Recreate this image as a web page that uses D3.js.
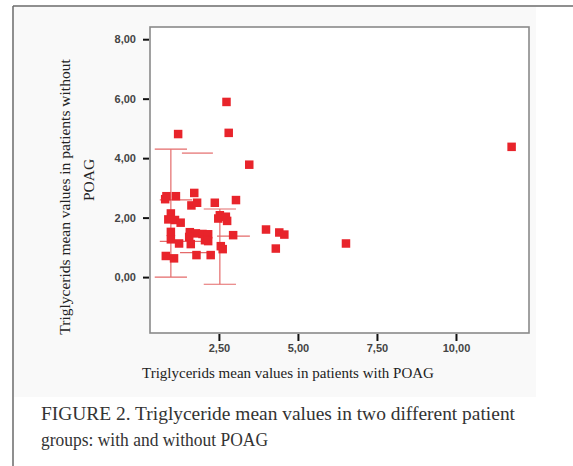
<!DOCTYPE html>
<html>
<head>
<meta charset="utf-8">
<script src="https://cdn.jsdelivr.net/npm/d3@7"></script>
<style>
body{margin:0;background:#fff;}
svg{display:block;}
</style>
</head>
<body>
<div class="visHolder"></div>
<script>
var width=573,
    height=466;

// triglycerides, with POAG (x) vs without POAG (y)
var withPOAG=[2.74,1.21,2.81,11.76,3.46,0.84,1.14,0.80,1.72,1.63,1.81,2.37,3.04,0.98,0.90,1.11,1.29,2.53,2.48,2.72,2.76,0.98,0.98,1.24,1.58,1.77,1.98,2.16,1.56,2.06,2.16,1.61,2.95,2.56,2.62,0.82,1.08,1.79,2.24,3.99,4.41,4.57,4.30,6.52];
var withoutPOAG=[5.89,4.81,4.85,4.38,3.78,2.72,2.72,2.62,2.83,2.41,2.50,2.50,2.59,2.14,1.94,1.92,1.83,2.08,1.97,2.03,1.89,1.52,1.27,1.13,1.51,1.47,1.45,1.44,1.35,1.24,1.21,1.11,1.41,1.04,0.94,0.71,0.63,0.74,0.74,1.60,1.50,1.43,0.96,1.13];

// error bars (vertical) and the extra horizontal marks
var barX=[0.98,2.53],
    barLo=[0.0,-0.24],
    barHi=[4.30,2.29];
var markY=[4.17,2.60,1.20,0.82,1.38],
    markX0=[1.33,0.63,0.63,1.27,2.44],
    markX1=[2.31,1.65,1.95,2.37,3.48];

var xTicks=[2.5,5,7.5,10],
    yTicks=[0,2,4,6,8];

var xTitle='Triglycerids mean values in patients with POAG',
    yTitle=['Triglycerids mean values in patients without','POAG'],
    caption=['FIGURE 2. Triglyceride mean values in two different patient','groups: with and without POAG'];

var dataset=withPOAG.map(function(d,i){return [d,withoutPOAG[i]];});

var svg=d3.select('.visHolder')
  .append('svg')
  .attr('width',width)
  .attr('height',height);

// page frame
svg.append('rect').attr('x',14).attr('y',7).attr('width',522).attr('height',390).style('fill','#f9f9f9');
svg.append('line').attr('x1',13).attr('x2',width).attr('y1',6).attr('y2',6).style('stroke','#6a6a6a').style('stroke-width',1.5);
svg.append('line').attr('x1',13).attr('x2',13).attr('y1',6).attr('y2',height).style('stroke','#6a6a6a').style('stroke-width',1.5);

var pLeft=150,pRight=529,pTop=27,pBottom=333;

var xScale=d3.scaleLinear().domain([0.32,12.31]).range([pLeft,pRight]);
var yScale=d3.scaleLinear().domain([-1.88,8.41]).range([pBottom,pTop]);

var fmt=function(d){return d3.format('.2f')(d).replace('.',',');};

svg.append('rect')
  .attr('x',pLeft).attr('y',pTop)
  .attr('width',pRight-pLeft).attr('height',pBottom-pTop)
  .style('fill','#fff')
  .style('stroke','#8a8a8a')
  .style('stroke-width',1.6);

var xAxis=d3.axisBottom(xScale).tickValues(xTicks).tickFormat(fmt).tickSize(7).tickPadding(3);
var yAxis=d3.axisLeft(yScale).tickValues(yTicks).tickFormat(fmt).tickSize(6).tickPadding(7);

var gx=svg.append('g')
  .attr('transform','translate(0,'+(pBottom+1)+')')
  .call(xAxis)
  .attr('id','x-axis');
var gy=svg.append('g')
  .attr('transform','translate('+(pLeft-1)+',0)')
  .call(yAxis)
  .attr('id','y-axis');

[gx,gy].forEach(function(g){
  g.select('.domain').remove();
  g.selectAll('line').style('stroke','#111').style('stroke-width',2);
  g.selectAll('text')
    .style('font-family','"Liberation Sans",Arial,sans-serif')
    .style('font-size','11px')
    .style('font-weight','bold')
    .style('fill','#444');
});

// error lines
var errColor='#e46a6a';
barX.forEach(function(x,i){
  svg.append('line')
    .attr('x1',xScale(x)).attr('x2',xScale(x))
    .attr('y1',yScale(barLo[i])).attr('y2',yScale(barHi[i]))
    .style('stroke',errColor).style('stroke-width',1.2);
  [barLo[i],barHi[i]].forEach(function(v){
    svg.append('line')
      .attr('x1',xScale(x-0.51)).attr('x2',xScale(x+0.51))
      .attr('y1',yScale(v)).attr('y2',yScale(v))
      .style('stroke',errColor).style('stroke-width',1.2);
  });
});
markY.forEach(function(y,i){
  svg.append('line')
    .attr('x1',xScale(markX0[i])).attr('x2',xScale(markX1[i]))
    .attr('y1',yScale(y)).attr('y2',yScale(y))
    .style('stroke',errColor).style('stroke-width',1.2);
});

// points
var s=8.5;
svg.selectAll('rect.dot')
  .data(dataset)
  .enter()
  .append('rect')
  .attr('class','dot')
  .attr('x',function(d){return xScale(d[0])-s/2;})
  .attr('y',function(d){return yScale(d[1])-s/2;})
  .attr('width',s)
  .attr('height',s)
  .style('fill','#e8242b');

// titles
var serif='"Liberation Serif","Times New Roman",serif';
svg.append('text')
  .attr('x',288).attr('y',378)
  .attr('text-anchor','middle')
  .style('font-family',serif).style('font-size','15px').style('fill','#222')
  .text(xTitle);

svg.append('text')
  .attr('transform','translate(70,197) rotate(-90)')
  .attr('text-anchor','middle')
  .style('font-family',serif).style('font-size','15.5px').style('fill','#222')
  .text(yTitle[0]);
svg.append('text')
  .attr('transform','translate(94,180) rotate(-90)')
  .attr('text-anchor','middle')
  .style('font-family',serif).style('font-size','15.5px').style('fill','#222')
  .text(yTitle[1]);

// caption
var capW=[474,227];
caption.forEach(function(t,i){
  svg.append('text')
    .attr('x',41).attr('y',420+i*26)
    .attr('textLength',capW[i])
    .attr('lengthAdjust','spacingAndGlyphs')
    .style('font-family',serif).style('font-size','19px').style('fill','#333')
    .text(t);
});
</script>
</body>
</html>
